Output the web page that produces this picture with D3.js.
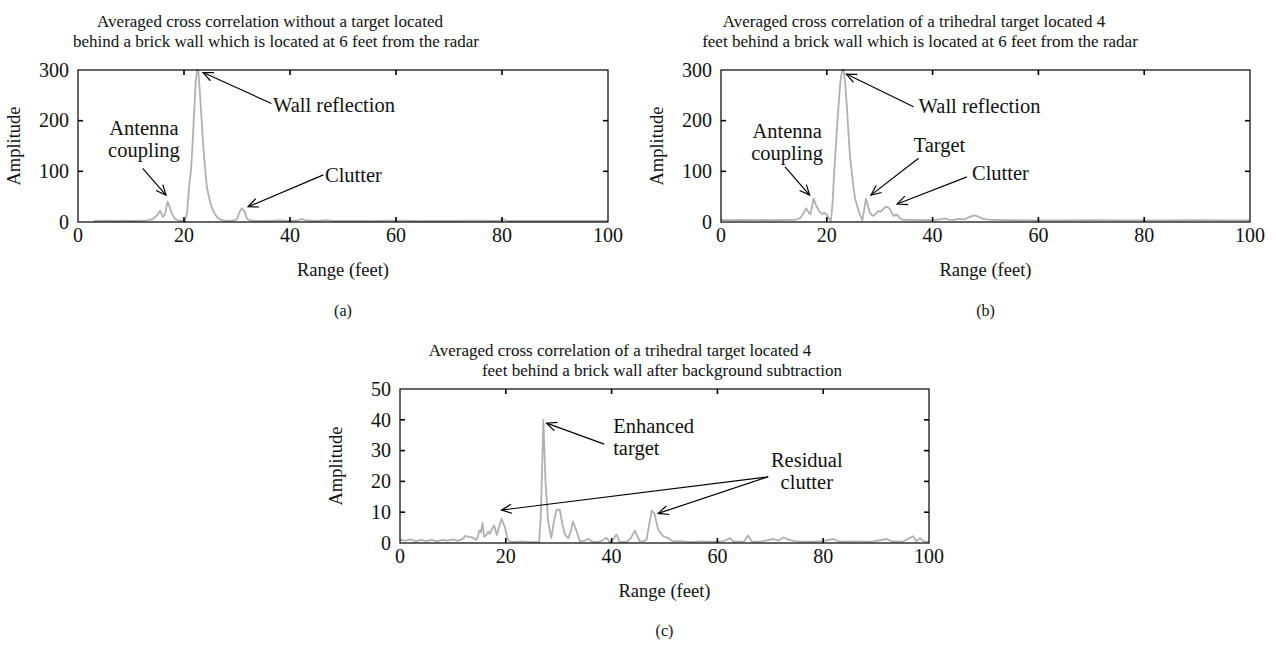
<!DOCTYPE html>
<html lang="en">
<head>
  <meta charset="UTF-8">
  <title>Averaged cross correlation</title>
  <script src="https://cdn.jsdelivr.net/npm/d3@7"></script>
  <style>
    body { margin: 0; background: #fff; }
    text { font-family: "Liberation Serif", "DejaVu Serif", serif; fill: #111; }
    .curve { fill: none; stroke: #b0b0b0; stroke-width: 1.8; stroke-linejoin: round; }
    .frame { fill: none; stroke: #000; stroke-width: 1.2; }
    .tick { stroke: #000; stroke-width: 1.6; }
    .arrow { stroke: #000; stroke-width: 1.2; fill: none; }
  </style>
</head>
<body>
<svg width="1276" height="646"></svg>
<script>
// ---- data ----
var xTicks = [0, 20, 40, 60, 80, 100];
var yTicksAB = [0, 100, 200, 300];
var yTicksC = [0, 10, 20, 30, 40, 50];

// (a) no target
var rangeA = [3, 5, 7, 9, 11, 13, 14, 14.9, 15.5, 16.0, 16.4, 16.9, 17.3, 17.7, 18.3, 19, 19.9,
  20.2, 20.6, 21.0, 21.3, 21.6, 21.9, 22.2, 22.45, 22.7, 23.0, 23.3, 23.6, 24.0, 24.3, 24.8, 25.2,
  25.7, 26.2, 26.8, 27.4, 28.5, 29.5, 30.0, 30.4, 30.9, 31.4, 31.9, 32.5, 34, 36, 38, 40, 41.5,
  42.2, 43, 45, 47, 48, 50, 55, 60, 65, 70, 75, 79.5, 80.3, 81, 85, 90, 95, 100];
var ampA = [2, 2.5, 2, 2.5, 2, 3, 5, 13, 22, 10, 15, 40, 30, 17, 6, 3, 2,
  0.5, 20, 75, 100, 150, 215, 275, 300, 300, 255, 205, 155, 105, 70, 45, 30,
  18, 10, 5, 3, 2, 3, 6, 18, 27, 22, 6, 3, 2, 2, 3, 2, 3,
  6, 3, 2, 3.5, 2, 2, 2, 2.5, 2, 2, 2.5, 2, 5, 2, 2, 2, 2, 2];

// (b) trihedral target 4 ft behind wall
var rangeB = [0, 2, 4, 6, 8, 10, 12, 14, 15.0, 15.6, 16.1, 16.6, 16.9, 17.2, 17.5, 17.9, 18.5,
  19.1, 19.6, 20.1, 20.5, 20.8, 21.1, 21.4, 21.8, 22.2, 22.6, 22.9, 23.2, 23.5, 23.8, 24.1, 24.4,
  24.8, 25.1, 25.4, 25.7, 26.0, 26.3, 26.7, 27.0, 27.4, 27.7, 28.1, 28.5, 28.8, 29.3, 29.8, 30.1,
  30.5, 30.9, 31.2, 31.6, 31.9, 32.3, 32.6, 33.2, 33.6, 34.1, 35, 37, 39, 40.5, 41.5, 42.2, 43,
  44, 45, 46, 47, 47.8, 48.6, 49.5, 50.5, 52, 55, 60, 65, 70, 75, 80, 85, 90, 95, 100];
var ampB = [4, 3.5, 4, 3.5, 4, 3.5, 4, 4, 8, 18, 27, 18, 16, 30, 46, 35, 22,
  16, 18, 13, 5, 3, 40, 100, 165, 227, 280, 300, 300, 270, 227, 175, 128,
  90, 63, 45, 33, 22, 14, 4, 20, 46, 35, 19, 14, 12, 17, 22, 20,
  23, 28, 30, 29, 26, 18, 12, 15, 10, 5, 4, 4, 3.5, 4, 5, 7, 4.5,
  4, 6, 5, 10, 13, 11, 6, 4.5, 4, 3.5, 3, 3, 3.5, 3, 3, 3, 3.5, 3, 3];

// (c) after background subtraction
var rangeC = [0, 1, 2, 3, 4, 5, 6, 7, 8, 9, 10, 11, 12, 12.3, 13, 13.5, 14, 14.4, 14.7, 15.0,
  15.3, 15.6, 15.9, 16.3, 16.7, 17.0, 17.3, 17.8, 18.3, 18.7, 19.2, 19.8, 20.4, 21, 23, 25, 26.3,
  26.6, 26.8, 27.1, 27.5, 28.0, 28.6, 29.1, 29.6, 30.2, 30.7, 31.2, 31.8, 32.3, 32.7, 33.4, 34.0,
  35, 35.6, 36.2, 37, 38, 39.0, 39.6, 40.3, 40.9, 41.5, 42.8, 43.6, 44.4, 45.3, 46.0, 46.6, 47.1,
  47.6, 48.1, 48.8, 49.8, 50.7, 51.6, 53, 55, 57, 59, 61, 62.4, 63, 65, 65.8, 66.5, 68, 70.6, 71.5,
  72.5, 73.5, 75, 78, 80, 81.9, 83, 86, 89, 92, 93, 95, 97.0, 97.6, 98.3, 99, 100];
var ampC = [1, 0.8, 1.2, 0.5, 1, 0.6, 1, 0.5, 1, 0.8, 1.2, 0.7, 1.5, 2.3, 2, 1.9, 1.5, 1, 2, 4.1,
  3.5, 6.5, 2, 2.5, 3.7, 3, 4.4, 5.7, 2.6, 5, 7.9, 5.2, 1, 0.3, 0.5, 0.3, 0.3,
  8, 20, 40, 20, 7, 1.6, 7, 10.8, 10.8, 6, 2.7, 1.6, 4, 7, 3.7, 0.5,
  0.8, 1.4, 0.5, 0.3, 0.6, 1.7, 0.3, 1, 2.8, 0.4, 0.3, 1.5, 4.0, 0.5, 0.6, 1, 6,
  10.5, 9.6, 4.3, 2.2, 1.6, 0.5, 0.6, 0.3, 0.5, 0.4, 0.5, 1.6, 0.4, 0.5, 2.4, 0.5, 0.4, 1.3, 0.8,
  1.8, 1, 0.5, 0.4, 0.6, 1.3, 0.4, 0.5, 0.4, 1.3, 0.5, 0.4, 2.2, 0.6, 1.6, 0.5, 0.3];

var titleA = ["Averaged cross correlation without a target located",
  "behind a brick wall which is located at 6 feet from the radar"];
var titleB = ["Averaged cross correlation of a trihedral target located 4",
  "feet behind a brick wall which is located at 6 feet from the radar"];
var titleC = ["Averaged cross correlation of a trihedral target located 4",
  "feet behind a brick wall after background subtraction"];

// ---- panels ----
var svg = d3.select("svg");

var panels = [
  { left: 78, top: 70, w: 530, h: 152, yMax: 300, yTicks: yTicksAB, xs: rangeA, ys: ampA,
    title: titleA, titleX: [270, 276], titleY: [27, 47], xLabelY: 276, yLabelX: 20, tag: "(a)", tagY: 316,
    notes: [
      { lines: ["Wall reflection"], x: 36.8, y: 217, anchor: "start", arrows: [[36.5, 234, 23.6, 295]] },
      { lines: ["Antenna", "coupling"], x: 12.45, y: 172, anchor: "middle", arrows: [[12.2, 106, 16.6, 53]] },
      { lines: ["Clutter"], x: 46.6, y: 79.5, anchor: "start", arrows: [[46.3, 93, 32.1, 30]] }
    ] },
  { left: 721, top: 70, w: 529, h: 152, yMax: 300, yTicks: yTicksAB, xs: rangeB, ys: ampB,
    title: titleB, titleX: [914, 920], titleY: [27, 47], xLabelY: 276, yLabelX: 663, tag: "(b)", tagY: 316,
    notes: [
      { lines: ["Wall reflection"], x: 37.35, y: 214.5, anchor: "start", arrows: [[36.4, 227.5, 23.7, 292]] },
      { lines: ["Antenna", "coupling"], x: 12.5, y: 166, anchor: "middle", arrows: [[12.1, 109, 16.75, 53]] },
      { lines: ["Target"], x: 36.4, y: 138.7, anchor: "start", arrows: [[37.35, 126, 28.35, 53]] },
      { lines: ["Clutter"], x: 47.45, y: 82.9, anchor: "start", arrows: [[46.5, 89, 33.3, 35.5]] }
    ] },
  { left: 400, top: 389, w: 529, h: 154, yMax: 50, yTicks: yTicksC, xs: rangeC, ys: ampC,
    title: titleC, titleX: [620, 662], titleY: [356, 376], xLabelY: 597, yLabelX: 342, tag: "(c)", tagY: 636,
    notes: [
      { lines: ["Enhanced", "target"], x: 40.3, y: 35.6, anchor: "start", arrows: [[38.6, 32.1, 27.7, 38.9]] },
      { lines: ["Residual", "clutter"], x: 76.9, y: 24.8, anchor: "middle",
        arrows: [[69.6, 21.5, 19.2, 10.7], [69.6, 21.5, 48.8, 9.6]] }
    ] }
];

panels.forEach(drawPanel);

function drawPanel(p) {
  var x = d3.scaleLinear().domain([0, 100]).range([p.left, p.left + p.w]);
  var y = d3.scaleLinear().domain([0, p.yMax]).range([p.top + p.h, p.top]);
  var g = svg.append("g");

  // curve
  var line = d3.line()
      .x(function(d, i) { return x(p.xs[i]); })
      .y(function(d) { return y(d); });
  g.append("path").attr("class", "curve").attr("d", line(p.ys));

  // inward ticks on all four sides
  var tl = 5;
  p.yTicks.slice(1, -1).forEach(function(t) {
    g.append("line").attr("class", "tick")
      .attr("x1", p.left).attr("x2", p.left + tl).attr("y1", y(t)).attr("y2", y(t));
    g.append("line").attr("class", "tick")
      .attr("x1", p.left + p.w).attr("x2", p.left + p.w - tl).attr("y1", y(t)).attr("y2", y(t));
  });
  xTicks.slice(1, -1).forEach(function(t) {
    g.append("line").attr("class", "tick")
      .attr("x1", x(t)).attr("x2", x(t)).attr("y1", p.top + p.h).attr("y2", p.top + p.h - tl);
    g.append("line").attr("class", "tick")
      .attr("x1", x(t)).attr("x2", x(t)).attr("y1", p.top).attr("y2", p.top + tl);
  });
  g.append("rect").attr("class", "frame")
    .attr("x", p.left).attr("y", p.top).attr("width", p.w).attr("height", p.h);

  // tick labels
  g.selectAll(".xl").data(xTicks).enter().append("text")
    .attr("x", function(d) { return x(d); })
    .attr("y", p.top + p.h + 20)
    .attr("text-anchor", "middle").style("font-size", "20px")
    .text(function(d) { return d; });
  g.selectAll(".yl").data(p.yTicks).enter().append("text")
    .attr("x", p.left - 9)
    .attr("y", function(d) { return y(d); })
    .attr("dy", "0.34em")
    .attr("text-anchor", "end").style("font-size", "20px")
    .text(function(d) { return d; });

  // axis labels
  g.append("text")
    .attr("x", p.left + p.w / 2).attr("y", p.xLabelY)
    .attr("text-anchor", "middle").style("font-size", "18.5px")
    .text("Range (feet)");
  g.append("text")
    .attr("transform", "translate(" + p.yLabelX + "," + (p.top + p.h / 2) + ") rotate(-90)")
    .attr("text-anchor", "middle").style("font-size", "18.5px")
    .text("Amplitude");

  // title
  p.title.forEach(function(s, i) {
    g.append("text")
      .attr("x", p.titleX[i]).attr("y", p.titleY[i])
      .attr("text-anchor", "middle").style("font-size", "17px")
      .text(s);
  });

  // panel tag
  g.append("text")
    .attr("x", p.left + p.w / 2).attr("y", p.tagY)
    .attr("text-anchor", "middle").style("font-size", "16px")
    .text(p.tag);

  // annotations
  p.notes.forEach(function(n) {
    n.lines.forEach(function(s, i) {
      g.append("text")
        .attr("x", x(n.x)).attr("y", y(n.y) + i * 22)
        .attr("text-anchor", n.anchor).style("font-size", "20.5px")
        .text(s);
    });
    n.arrows.forEach(function(a) {
      var x1 = x(a[0]), y1 = y(a[1]), x2 = x(a[2]), y2 = y(a[3]);
      var ang = Math.atan2(y1 - y2, x1 - x2), hl = 11, ha = 0.42;
      g.append("line").attr("class", "arrow")
        .attr("x1", x1).attr("y1", y1).attr("x2", x2).attr("y2", y2);
      g.append("path").attr("class", "arrow")
        .attr("d", "M" + (x2 + hl * Math.cos(ang + ha)) + "," + (y2 + hl * Math.sin(ang + ha)) +
                   "L" + x2 + "," + y2 +
                   "L" + (x2 + hl * Math.cos(ang - ha)) + "," + (y2 + hl * Math.sin(ang - ha)));
    });
  });
}
</script>
</body>
</html>
